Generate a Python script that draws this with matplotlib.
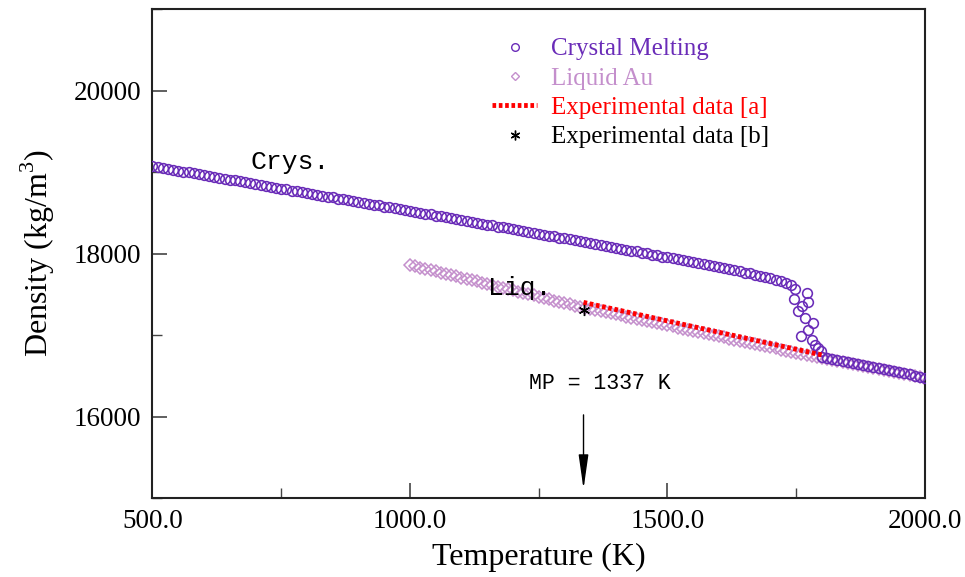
import matplotlib
matplotlib.use("Agg")
import matplotlib.pyplot as plt
from matplotlib.lines import Line2D
from matplotlib.ticker import MultipleLocator, FormatStrFormatter

# ---------------- data ----------------
crys_T = [500, 510, 520, 530, 540, 550, 560, 570, 580, 590,
          600, 610, 620, 630, 640, 650, 660, 670, 680, 690,
          700, 710, 720, 730, 740, 750, 760, 770, 780, 790,
          800, 810, 820, 830, 840, 850, 860, 870, 880, 890,
          900, 910, 920, 930, 940, 950, 960, 970, 980, 990,
          1000, 1010, 1020, 1030, 1040, 1050, 1060, 1070, 1080, 1090,
          1100, 1110, 1120, 1130, 1140, 1150, 1160, 1170, 1180, 1190,
          1200, 1210, 1220, 1230, 1240, 1250, 1260, 1270, 1280, 1290,
          1300, 1310, 1320, 1330, 1340, 1350, 1360, 1370, 1380, 1390,
          1400, 1410, 1420, 1430, 1440, 1450, 1460, 1470, 1480, 1490,
          1500, 1510, 1520, 1530, 1540, 1550, 1560, 1570, 1580, 1590,
          1600, 1610, 1620, 1630, 1640, 1650, 1660, 1670, 1680, 1690,
          1700, 1710, 1720, 1730, 1740,
          1748, 1771, 1745, 1773, 1761, 1754, 1767, 1783, 1773, 1759, 1781, 1787, 1793, 1798,
          1800, 1810, 1820, 1830, 1840, 1850, 1860, 1870, 1880, 1890,
          1900, 1910, 1920, 1930, 1940, 1950, 1960, 1970, 1980, 1990, 2000]
crys_D = [19070, 19062, 19048, 19040, 19026, 19018, 19004, 18995, 18985, 18970,
          18962, 18950, 18941, 18928, 18920, 18905, 18898, 18884, 18875, 18860,
          18852, 18838, 18830, 18816, 18808, 18795, 18786, 18772, 18764, 18750,
          18741, 18730, 18718, 18710, 18696, 18688, 18674, 18665, 18652, 18644,
          18632, 18620, 18611, 18597, 18590, 18576, 18568, 18553, 18545, 18531,
          18524, 18510, 18502, 18488, 18479, 18466, 18457, 18443, 18435, 18420,
          18413, 18398, 18390, 18376, 18368, 18353, 18345, 18331, 18322, 18308,
          18300, 18286, 18278, 18263, 18255, 18240, 18232, 18218, 18209, 18195,
          18186, 18172, 18164, 18149, 18141, 18126, 18118, 18103, 18094, 18080,
          18071, 18057, 18048, 18033, 18025, 18010, 18001, 17987, 17978, 17963,
          17955, 17940, 17931, 17916, 17907, 17892, 17883, 17868, 17859, 17843,
          17834, 17818, 17809, 17793, 17783, 17766, 17756, 17738, 17727, 17708,
          17696, 17676, 17662, 17640, 17618,
          17560, 17515, 17442, 17405, 17356, 17295, 17209, 17147, 17061, 16988, 16939, 16877, 16840, 16800,
          16735, 16722, 16710, 16696, 16684, 16672, 16658, 16646, 16632, 16620,
          16606, 16594, 16580, 16568, 16555, 16542, 16530, 16516, 16503, 16490, 16470]

liq_T = [1000, 1010, 1020, 1030, 1040, 1050, 1060, 1070, 1080, 1090,
         1100, 1110, 1120, 1130, 1140, 1150, 1160, 1170, 1180, 1190,
         1200, 1210, 1220, 1230, 1240, 1250, 1260, 1270, 1280, 1290,
         1300, 1310, 1320, 1330, 1340, 1350, 1360, 1370, 1380, 1390,
         1400, 1410, 1420, 1430, 1440, 1450, 1460, 1470, 1480, 1490,
         1500, 1510, 1520, 1530, 1540, 1550, 1560, 1570, 1580, 1590,
         1600, 1610, 1620, 1630, 1640, 1650, 1660, 1670, 1680, 1690,
         1700, 1710, 1720, 1730, 1740, 1750, 1760, 1770, 1780, 1790,
         1800, 1810, 1820, 1830, 1840, 1850, 1860, 1870, 1880, 1890,
         1900, 1910, 1920, 1930, 1940, 1950, 1960, 1970, 1980, 1990, 2000]
liq_D = [17860, 17846, 17828, 17815, 17797, 17783, 17765, 17752, 17734, 17720,
         17702, 17689, 17671, 17657, 17640, 17626, 17609, 17595, 17578, 17563,
         17547, 17533, 17516, 17502, 17485, 17471, 17454, 17440, 17423, 17409,
         17393, 17378, 17362, 17348, 17333, 17321, 17306, 17294, 17279, 17267,
         17252, 17240, 17225, 17213, 17198, 17186, 17171, 17160, 17144, 17133,
         17117, 17106, 17090, 17079, 17063, 17052, 17036, 17025, 17009, 16998,
         16982, 16971, 16955, 16944, 16928, 16917, 16901, 16890, 16874, 16863,
         16847, 16836, 16821, 16809, 16795, 16784, 16770, 16759, 16745, 16734,
         16720, 16709, 16695, 16684, 16670, 16659, 16645, 16634, 16620, 16609,
         16595, 16584, 16570, 16559, 16545, 16534, 16520, 16509, 16495, 16484, 16462]

expa_T = [1337, 1800]
expa_D = [17400, 16755]

expb_T = [1337]
expb_D = [17310]

labels = ["Crystal Melting", "Liquid Au", "Experimental data [a]", "Experimental data [b]"]
mp_T = 1337

# ---------------- style ----------------
C_CRYS = "#6a2cb8"
C_LIQ = "#c48fcc"
C_EXP = "#ff0000"
SERIF = ["Liberation Serif", "DejaVu Serif"]
MONO = ["Liberation Mono", "DejaVu Sans Mono"]
DOTS = (0, (0.75, 0.55))

plt.rcParams["font.family"] = SERIF
plt.rcParams["mathtext.fontset"] = "custom"
plt.rcParams["mathtext.rm"] = "Liberation Serif"

fig = plt.figure(figsize=(9.65, 5.77), dpi=100)
ax = fig.add_axes([0.158, 0.1369, 0.8005, 0.8475])

ax.plot(liq_T, liq_D, linestyle="none", marker="D", markersize=6.5,
        markerfacecolor="none", markeredgecolor=C_LIQ, markeredgewidth=1.1, zorder=2)
ax.plot(crys_T, crys_D, linestyle="none", marker="o", markersize=7.0,
        markerfacecolor="none", markeredgecolor=C_CRYS, markeredgewidth=1.15, zorder=3)
ax.plot(expa_T, expa_D, color=C_EXP, linewidth=3.5, linestyle=DOTS,
        dash_capstyle="butt", zorder=4)
ax.plot(expb_T, expb_D, linestyle="none", marker=(6, 2, 0), markersize=8,
        color="black", markeredgewidth=1.0, zorder=5)

ax.set_xlim(500, 2000)
ax.set_ylim(15000, 21000)
ax.xaxis.set_major_locator(MultipleLocator(500))
ax.xaxis.set_minor_locator(MultipleLocator(250))
ax.yaxis.set_major_locator(MultipleLocator(2000))
ax.yaxis.set_minor_locator(MultipleLocator(1000))
ax.xaxis.set_major_formatter(FormatStrFormatter("%.1f"))
ax.yaxis.set_major_formatter(FormatStrFormatter("%d"))
ax.set_yticks([16000, 18000, 20000])

ax.tick_params(axis="both", which="major", direction="in", length=11, width=1.2,
               color="#444444", labelsize=19.5, top=False, right=False, pad=8)
ax.tick_params(axis="both", which="minor", direction="in", length=7, width=1.0,
               color="#444444", top=False, right=False)
for sp in ax.spines.values():
    sp.set_linewidth(1.5)
    sp.set_color("#222222")

ax.set_xlabel("Temperature (K)", fontsize=23, labelpad=6)
ax.set_ylabel("Density (kg/m$^3$)", fontsize=23, labelpad=12)

ax.text(767, 19123, "Crys.", family=MONO, fontsize=19, ha="center", va="center")
ax.text(1214, 17577, "Liq.", family=MONO, fontsize=19, ha="center", va="center")
ax.text(1369, 16411, "MP = 1337 K", family=MONO, fontsize=15.5, ha="center", va="center")
ax.annotate("", xy=(mp_T, 15110), xytext=(mp_T, 16020),
            arrowprops=dict(arrowstyle="-|>,head_length=1.4,head_width=0.2",
                            color="black", lw=1.0, mutation_scale=15,
                            shrinkA=0, shrinkB=0))

handles = [
    Line2D([], [], linestyle="none", marker="o", markersize=5.5, markerfacecolor="none",
           markeredgecolor=C_CRYS, markeredgewidth=1.0),
    Line2D([], [], linestyle="none", marker="D", markersize=4.5, markerfacecolor="none",
           markeredgecolor=C_LIQ, markeredgewidth=1.0),
    Line2D([], [], color=C_EXP, linewidth=3.5, linestyle=DOTS, dash_capstyle="butt"),
    Line2D([], [], linestyle="none", marker=(6, 2, 0), markersize=7, color="black",
           markeredgewidth=1.0),
]
leg = fig.legend(handles, labels, loc="upper left", bbox_to_anchor=(492 / 965, 1 - 38 / 577),
                 frameon=False, fontsize=18, handlelength=1.8, handletextpad=0.55,
                 labelspacing=0.27, borderpad=0, borderaxespad=0)
for t, c in zip(leg.get_texts(), [C_CRYS, C_LIQ, C_EXP, "black"]):
    t.set_color(c)

fig.savefig("out.png", dpi=100)
